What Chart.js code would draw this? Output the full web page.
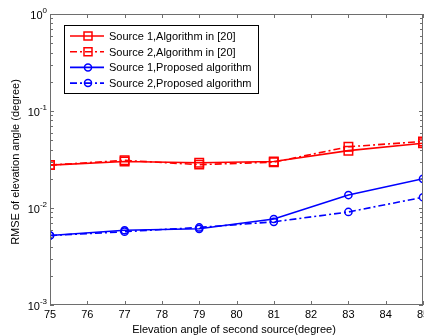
<!DOCTYPE html>
<html>
<head>
<meta charset="utf-8">
<script src="https://cdn.jsdelivr.net/npm/chart.js@4"></script>
<style>
  html, body { margin: 0; padding: 0; background: #fff; }
  #wrap { width: 424px; height: 335px; position: relative; }
</style>
</head>
<body>
<div id="wrap"><canvas id="rmse-chart"></canvas></div>
<script>
// --- Data ---
const elevations = [75, 77, 79, 81, 83, 85];
const xTicks = [75, 76, 77, 78, 79, 80, 81, 82, 83, 84, 85];
const yTicks = [0.001, 0.01, 0.1, 1];
const yTickExponents = ['-3', '-2', '-1', '0'];

const src1Ref = [0.0277, 0.0302, 0.0293, 0.0302, 0.0390, 0.0465];
const src2Ref = [0.0277, 0.0310, 0.0280, 0.0297, 0.0428, 0.0485];
const src1Proposed = [0.0052, 0.0059, 0.0061, 0.0077, 0.0136, 0.0200];
const src2Proposed = [0.0052, 0.0057, 0.0063, 0.0072, 0.0091, 0.0129];

const seriesLabels = [
    'Source 1,Algorithm in [20]',
    'Source 2,Algorithm in [20]',
    'Source 1,Proposed algorithm',
    'Source 2,Proposed algorithm'
];

const DASH_DOT = [7, 3, 2, 3];
const AXIS_COLOR = '#6e6e6e';
const FONT = 'Liberation Sans, Arial, sans-serif';

const toPoints = (vals) => vals.map((v, i) => ({ x: elevations[i], y: v }));

const makeSet = (label, vals, color, dashed, style, radius) => ({
    label: label,
    data: toPoints(vals),
    borderColor: color,
    backgroundColor: color,
    borderWidth: 1.6,
    borderDash: dashed ? DASH_DOT : [],
    pointStyle: style,
    pointRadius: radius,
    pointBorderWidth: 1.5,
    pointBorderColor: color,
    pointBackgroundColor: 'rgba(0,0,0,0)',
    tension: 0
});

const datasets = [
    makeSet(seriesLabels[0], src1Ref, '#ff0000', false, 'rect', 6),
    makeSet(seriesLabels[1], src2Ref, '#ff0000', true, 'rect', 6),
    makeSet(seriesLabels[2], src1Proposed, '#0000ff', false, 'circle', 3.6),
    makeSet(seriesLabels[3], src2Proposed, '#0000ff', true, 'circle', 3.6)
];

// --- Frame, inward ticks, labels and legend drawn on top of the scales ---
const matlabAxes = {
    id: 'matlabAxes',
    afterDatasetsDraw(chart) {
        const ctx = chart.ctx;
        const a = chart.chartArea;
        const xs = chart.scales.x;
        const ys = chart.scales.y;
        ctx.save();

        // frame
        ctx.strokeStyle = AXIS_COLOR;
        ctx.lineWidth = 1;
        ctx.strokeRect(a.left + 0.5, a.top + 0.5, a.right - a.left - 1, a.bottom - a.top - 1);

        // x ticks, bottom and top
        ctx.beginPath();
        xTicks.forEach(t => {
            const px = Math.round(xs.getPixelForValue(t)) + 0.5;
            ctx.moveTo(px, a.bottom); ctx.lineTo(px, a.bottom - 4);
            ctx.moveTo(px, a.top); ctx.lineTo(px, a.top + 4);
        });
        // y ticks, major and minor, left and right
        for (let d = 0; d < yTicks.length; d++) {
            const base = yTicks[d];
            const py = Math.round(ys.getPixelForValue(base)) + 0.5;
            ctx.moveTo(a.left, py); ctx.lineTo(a.left + 4, py);
            ctx.moveTo(a.right, py); ctx.lineTo(a.right - 4, py);
            if (d === yTicks.length - 1) break;
            for (let m = 2; m <= 9; m++) {
                const my = Math.round(ys.getPixelForValue(base * m)) + 0.5;
                ctx.moveTo(a.left, my); ctx.lineTo(a.left + 3, my);
                ctx.moveTo(a.right, my); ctx.lineTo(a.right - 3, my);
            }
        }
        ctx.stroke();

        // tick labels
        ctx.fillStyle = '#000';
        ctx.font = '11px ' + FONT;
        ctx.textAlign = 'center';
        ctx.textBaseline = 'top';
        xTicks.forEach(t => ctx.fillText(String(t), xs.getPixelForValue(t), a.bottom + 4));

        yTicks.forEach((t, i) => {
            const py = ys.getPixelForValue(t);
            const exp = yTickExponents[i];
            ctx.font = '8px ' + FONT;
            const ew = ctx.measureText(exp).width;
            ctx.textAlign = 'left';
            ctx.textBaseline = 'alphabetic';
            ctx.fillText(exp, a.left - 3 - ew, py - 1);
            ctx.font = '11px ' + FONT;
            ctx.textAlign = 'right';
            ctx.fillText('10', a.left - 3 - ew, py + 5);
        });

        // axis titles
        ctx.font = '11px ' + FONT;
        ctx.textAlign = 'center';
        ctx.textBaseline = 'alphabetic';
        ctx.fillText('Elevation angle of second source(degree)', 234, 333);
        ctx.save();
        ctx.translate(19, 162);
        ctx.rotate(-Math.PI / 2);
        ctx.fillText('RMSE of elevation angle (degree)', 0, 0);
        ctx.restore();

        // legend
        const lx = 64, ly = 25, lw = 194, lh = 68;
        ctx.fillStyle = '#fff';
        ctx.fillRect(lx, ly, lw, lh);
        ctx.strokeStyle = '#000';
        ctx.lineWidth = 1;
        ctx.strokeRect(lx + 0.5, ly + 0.5, lw, lh);
        chart.data.datasets.forEach((ds, i) => {
            const cy = ly + 11 + i * 15.7;
            ctx.strokeStyle = ds.borderColor;
            ctx.lineWidth = 1.6;
            ctx.setLineDash(ds.borderDash);
            ctx.beginPath();
            ctx.moveTo(lx + 6, cy); ctx.lineTo(lx + 40, cy);
            ctx.stroke();
            ctx.setLineDash([]);
            ctx.lineWidth = 1.5;
            ctx.beginPath();
            if (ds.pointStyle === 'rect') {
                ctx.rect(lx + 20, cy - 4, 8, 8);
            } else {
                ctx.arc(lx + 24, cy, 3.5, 0, Math.PI * 2);
            }
            ctx.stroke();
            ctx.fillStyle = '#000';
            ctx.font = '11px ' + FONT;
            ctx.textAlign = 'left';
            ctx.textBaseline = 'middle';
            ctx.fillText(ds.label, lx + 45, cy + 1);
        });

        ctx.restore();
    }
};

// --- Chart ---
const chartCtx = document.getElementById('rmse-chart').getContext('2d');
new Chart(chartCtx, {
    type: 'line',
    data: { datasets: datasets },
    options: {
        responsive: true,
        maintainAspectRatio: false,
        animation: false,
        layout: {
            autoPadding: false,
            padding: { left: 50, top: 14, right: 1, bottom: 30 }
        },
        plugins: {
            legend: { display: false },
            tooltip: { enabled: false }
        },
        scales: {
            x: {
                type: 'linear',
                display: false,
                min: 75,
                max: 85
            },
            y: {
                type: 'logarithmic',
                display: false,
                min: 0.001,
                max: 1
            }
        }
    },
    plugins: [matlabAxes]
});
</script>
</body>
</html>
